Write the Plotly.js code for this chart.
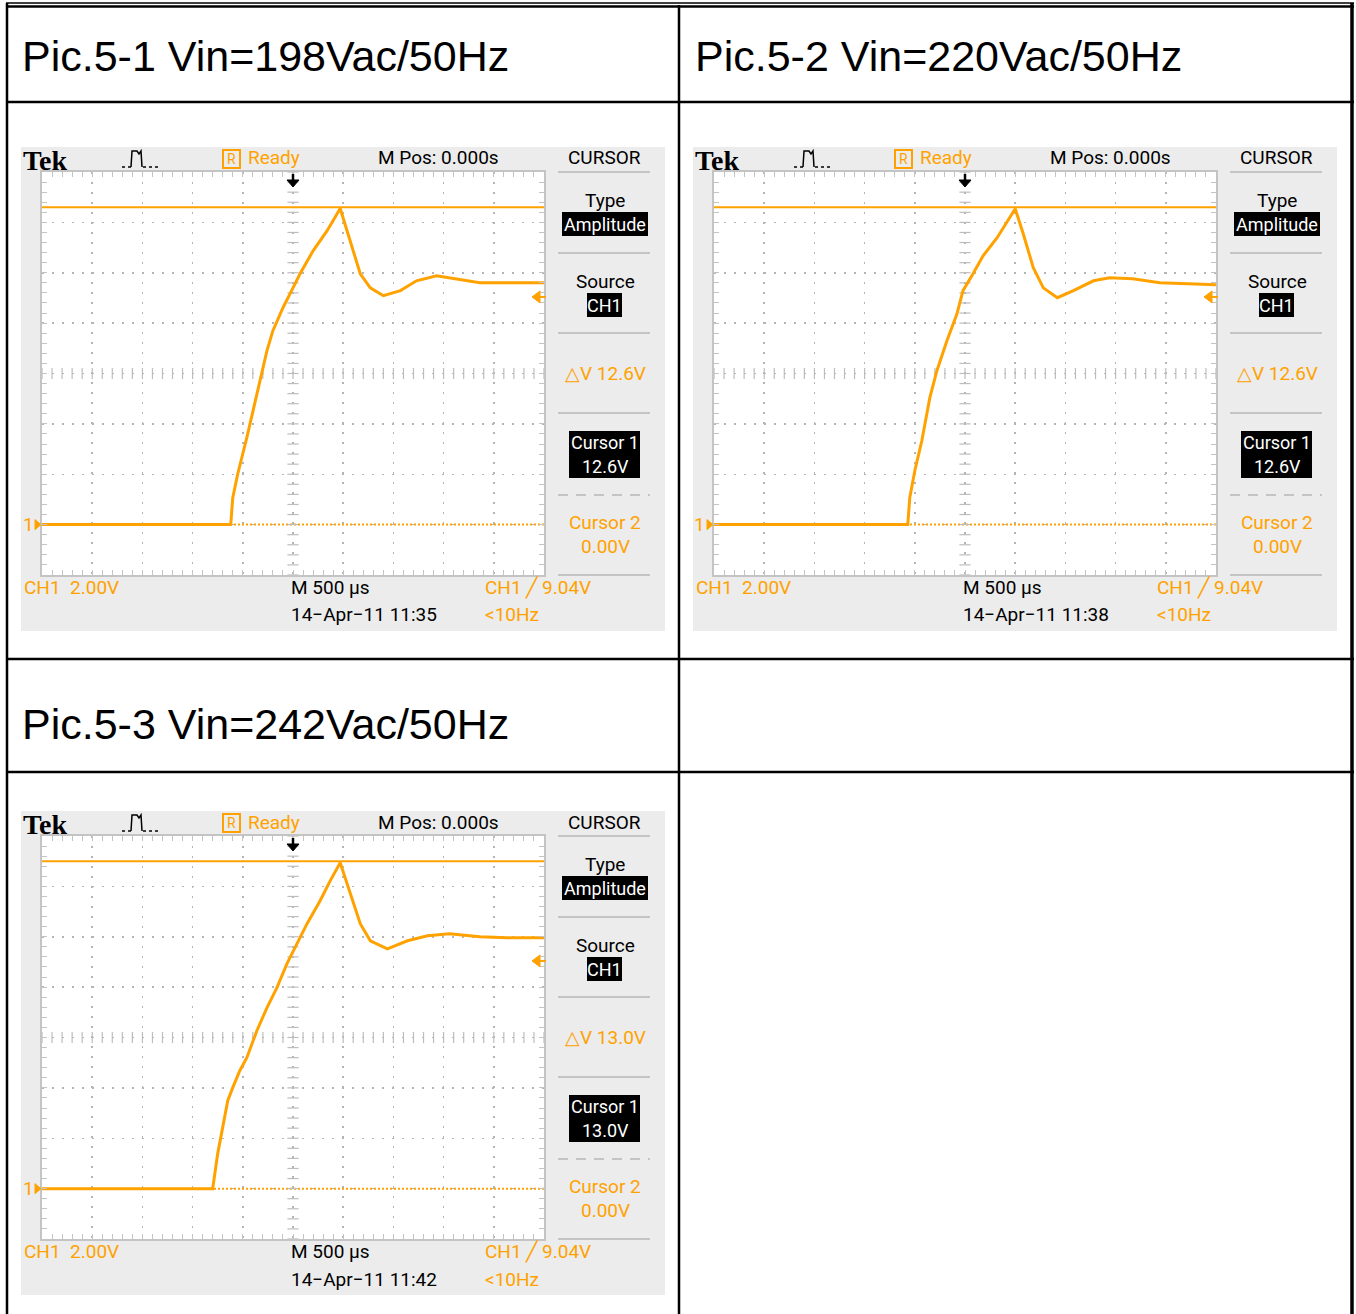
<!DOCTYPE html>
<html><head><meta charset="utf-8">
<script src="https://cdn.plot.ly/plotly-3.0.1.min.js"></script>
<style>html,body{margin:0;padding:0;background:#fff}#chart{width:1356px;height:1314px}</style>
</head><body><div id="chart"></div>
<script>
const W = 1356, H = 1314;

// ---------------- data ----------------
const panelTitles = ['Pic.5-1 Vin=198Vac/50Hz', 'Pic.5-2 Vin=220Vac/50Hz', 'Pic.5-3 Vin=242Vac/50Hz'];
const timestamps = ['14\u2212Apr\u221211 11:35', '14\u2212Apr\u221211 11:38', '14\u2212Apr\u221211 11:42'];
const cursor1Volts = [12.6, 12.6, 13.0];
const cursor2Volts = 0.00;
const triggerLevel = 9.04;        // V
const voltsPerDiv = 2.00;         // V/div
const timePerDiv = 0.5;           // ms/div (500 us)
const groundDivFromBottom = 1;

// time in ms, voltage in V
const t1 = [-2.50,-0.62,-0.60,-0.55,-0.46,-0.40,-0.33,-0.26,-0.20,-0.10,0.00,0.07,0.20,0.34,0.47,0.57,0.67,0.77,0.90,1.07,1.23,1.43,1.63,1.86,2.13,2.50];
const v1 = [0,0,1.07,2.02,3.45,4.52,5.71,6.90,7.70,8.61,9.40,9.96,10.87,11.67,12.55,11.27,9.96,9.40,9.09,9.29,9.68,9.88,9.76,9.60,9.60,9.60];

const t2 = [-2.50,-0.57,-0.55,-0.50,-0.43,-0.37,-0.35,-0.28,-0.18,-0.08,-0.02,0.08,0.18,0.32,0.42,0.50,0.58,0.68,0.78,0.92,1.08,1.28,1.44,1.67,1.94,2.21,2.50];
const v2 = [0,0,1.07,2.14,3.33,4.52,5.04,6.11,7.30,8.37,9.29,9.96,10.67,11.39,12.06,12.54,11.55,10.20,9.40,9.01,9.29,9.68,9.80,9.76,9.60,9.56,9.52];

const t3 = [-2.50,-0.80,-0.75,-0.71,-0.65,-0.60,-0.53,-0.46,-0.40,-0.36,-0.26,-0.16,-0.06,0.04,0.14,0.27,0.37,0.47,0.57,0.67,0.77,0.94,1.14,1.34,1.56,1.86,2.13,2.50];
const v3 = [0,0,1.39,2.18,3.49,4.01,4.68,5.20,5.87,6.27,7.18,7.98,8.93,9.72,10.52,11.43,12.22,12.94,11.71,10.52,9.84,9.52,9.84,10.04,10.12,10.00,9.96,9.96];

const series = [[t1, v1], [t2, v2], [t3, v3]];

// ---------------- style ----------------
const ORANGE = '#FFA200';
const GRAY_BG = '#ECECEC';
const GRID = '#B4B4B4';
const NARROW = 'Roboto, "Liberation Sans", sans-serif';
const SANS = '"Liberation Sans", Arial, sans-serif';
const SERIF = '"Liberation Serif", "DejaVu Serif", serif';
const FS = 19;

const X = p => p / W;
const Y = p => 1 - p / H;
const pathStr = pts => pts.map((p, i) => (i ? 'L' : 'M') + X(p[0]).toFixed(5) + ',' + Y(p[1]).toFixed(5)).join(' ');

const shapes = [];
const annotations = [];
const traces = [];
const layout = {
  width: W, height: H,
  margin: {l: 0, r: 0, t: 0, b: 0},
  paper_bgcolor: '#fff',
  plot_bgcolor: 'rgba(0,0,0,0)',
  showlegend: false,
  shapes, annotations
};

function txt(text, x, y, size, color, family, xanchor, extra) {
  annotations.push(Object.assign({
    text, x: X(x), y: Y(y), xref: 'paper', yref: 'paper', showarrow: false,
    xanchor: xanchor || 'center', yanchor: 'middle',
    font: {family: family || NARROW, size: size, color: color}
  }, extra || {}));
}
function rect(x0, y0, x1, y1, fill, layer) {
  shapes.push({type: 'rect', xref: 'paper', yref: 'paper', x0: X(x0), x1: X(x1), y0: Y(y0), y1: Y(y1),
    fillcolor: fill, line: {color: fill, width: 0}, layer: layer || 'below'});
}
function line(x0, y0, x1, y1, color, w, dash, layer) {
  shapes.push({type: 'line', xref: 'paper', yref: 'paper', x0: X(x0), x1: X(x1), y0: Y(y0), y1: Y(y1),
    line: {color, width: w, dash: dash || 'solid'}, layer: layer || 'above'});
}

// ---------------- table ----------------
const tableTitlePos = [[20, 56], [693, 56], [20, 724]];
panelTitles.forEach((t, i) => txt(t, tableTitlePos[i][0], tableTitlePos[i][1], 43, '#000', SANS, 'left'));

// ---------------- scopes ----------------
const offsets = [[0, 0], [672, 0], [0, 664]];
const nDivX = 10, nDivY = 8;
const xRange = [-nDivX / 2 * timePerDiv, nDivX / 2 * timePerDiv];
const yRange = [-groundDivFromBottom * voltsPerDiv, (nDivY - groundDivFromBottom) * voltsPerDiv];
const ySpanPx = 575 - 172;
const vPerPx = (yRange[1] - yRange[0]) / ySpanPx;

offsets.forEach(([dx, dy], i) => {
  const n = i === 0 ? '' : String(i + 1);
  const xa = 'x' + n, ya = 'y' + n;
  // background
  rect(21 + dx, 147 + dy, 665 + dx, 631 + dy, GRAY_BG);
  rect(42 + dx, 172 + dy, 544 + dx, 575 + dy, '#FFFFFF');

  const axCommon = {
    showline: true, linecolor: '#C4C4C4', linewidth: 2, mirror: 'allticks',
    ticks: 'inside', ticklen: 5, tickwidth: 1, tickcolor: '#C4C4C4',
    showticklabels: false, zeroline: false,
    showgrid: true, gridcolor: GRID, gridwidth: 1.5, griddash: '1.5px,8.5px',
    fixedrange: true
  };
  layout['xaxis' + n] = Object.assign({}, axCommon, {
    domain: [X(42 + dx), X(544 + dx)], range: xRange, anchor: ya,
    tick0: 0, dtick: timePerDiv,
    minor: {dtick: timePerDiv / 5, ticks: 'inside', ticklen: 5, tickcolor: '#C4C4C4', showgrid: false}
  });
  layout['yaxis' + n] = Object.assign({}, axCommon, {
    domain: [Y(575 + dy), Y(172 + dy)], range: yRange, anchor: xa,
    tick0: 0, dtick: voltsPerDiv,
    minor: {dtick: voltsPerDiv / 5, ticks: 'inside', ticklen: 5, tickcolor: '#C4C4C4', showgrid: false}
  });

  // centre cross small ticks (graticule)
  const cx = [], cy = [];
  for (let k = 0; k <= nDivY * 5; k++) { cx.push(0); cy.push(yRange[0] + k * voltsPerDiv / 5); }
  traces.push({x: cx, y: cy, xaxis: xa, yaxis: ya, mode: 'markers', hoverinfo: 'skip',
    marker: {symbol: 'line-ew', size: 8, line: {color: '#BDBDBD', width: 1.2}}});
  const midV = (yRange[0] + yRange[1]) / 2;
  const hx = [], hy = [];
  for (let k = 0; k <= nDivX * 5; k++) { hx.push(xRange[0] + k * timePerDiv / 5); hy.push(midV); }
  traces.push({x: hx, y: hy, xaxis: xa, yaxis: ya, mode: 'markers', hoverinfo: 'skip',
    marker: {symbol: 'line-ns', size: 8, line: {color: '#BDBDBD', width: 1.2}}});

  // cursor 2 (dotted, 0 V) and cursor 1 (solid)
  shapes.push({type: 'line', xref: xa, yref: ya, x0: xRange[0], x1: xRange[1], y0: cursor2Volts, y1: cursor2Volts,
    line: {color: ORANGE, width: 2, dash: '2px,2px'}, layer: 'between'});
  shapes.push({type: 'line', xref: xa, yref: ya, x0: xRange[0], x1: xRange[1], y0: cursor1Volts[i], y1: cursor1Volts[i],
    line: {color: ORANGE, width: 2}, layer: 'between'});

  // waveform
  traces.push({x: series[i][0], y: series[i][1], xaxis: xa, yaxis: ya, mode: 'lines', hoverinfo: 'skip',
    line: {color: ORANGE, width: 3}});

  // trigger-level arrow on the right edge
  const h = 6 * vPerPx;
  shapes.push({type: 'path', xref: 'paper', yref: ya, layer: 'above',
    path: `M${X(532 + dx)},${triggerLevel} L${X(540 + dx)},${triggerLevel + h} L${X(540 + dx)},${triggerLevel - h} Z`,
    fillcolor: ORANGE, line: {color: ORANGE, width: 1}});
  shapes.push({type: 'line', xref: 'paper', yref: ya, x0: X(538 + dx), x1: X(546 + dx), y0: triggerLevel, y1: triggerLevel,
    line: {color: ORANGE, width: 2}});
  // ground marker "1 ▸"
  annotations.push({text: '1', xref: 'paper', yref: ya, x: X(28 + dx), y: 0, showarrow: false,
    xanchor: 'center', yanchor: 'middle', font: {family: NARROW, size: FS, color: ORANGE}});
  shapes.push({type: 'path', xref: 'paper', yref: ya, layer: 'above',
    path: `M${X(41 + dx)},0 L${X(35 + dx)},${5 * vPerPx} L${X(35 + dx)},${-5 * vPerPx} Z`,
    fillcolor: ORANGE, line: {color: ORANGE, width: 1}});

  // top bar
  txt('Tek', 45 + dx, 160 + dy, 28, '#000', SERIF, 'center', {font: {family: SERIF, size: 28, color: '#000', weight: 'bold'}});
  line(122 + dx, 167 + dy, 131 + dx, 167 + dy, '#000', 1.5, 'dot');
  shapes.push({type: 'path', xref: 'paper', yref: 'paper', layer: 'above',
    path: pathStr([[131 + dx, 167 + dy], [132 + dx, 151 + dy], [137 + dx, 151 + dy], [139 + dx, 154 + dy], [141 + dx, 151 + dy], [142 + dx, 167 + dy]]),
    line: {color: '#000', width: 1.5}});
  line(143 + dx, 167 + dy, 158 + dx, 167 + dy, '#000', 1.5, 'dot');
  shapes.push({type: 'rect', xref: 'paper', yref: 'paper', x0: X(223 + dx), x1: X(240 + dx), y0: Y(168 + dy), y1: Y(150 + dy),
    line: {color: ORANGE, width: 2}, fillcolor: 'rgba(0,0,0,0)'});
  txt('R', 231.5 + dx, 159 + dy, 14, ORANGE, NARROW);
  txt('Ready', 246 + dx, 158 + dy, FS, ORANGE, NARROW, 'left');
  txt('M Pos: 0.000s', 438 + dx, 158 + dy, FS, '#000', NARROW);
  txt('CURSOR', 604 + dx, 158 + dy, FS, '#000', NARROW);
  // trigger position arrow
  shapes.push({type: 'path', xref: 'paper', yref: 'paper', layer: 'above',
    path: pathStr([[287 + dx, 180 + dy], [299 + dx, 180 + dy], [293 + dx, 187 + dy]]) + ' Z',
    fillcolor: '#000', line: {color: '#000', width: 1}});
  line(293 + dx, 174 + dy, 293 + dx, 181 + dy, '#000', 2.5);

  // right menu
  [172, 253, 333, 413, 575].forEach(yy => line(558 + dx, yy + dy, 650 + dx, yy + dy, '#C4C4C4', 2));
  line(558 + dx, 495 + dy, 650 + dx, 495 + dy, '#C4C4C4', 2, '10px,8px');
  txt('Type', 605 + dx, 200 + dy, FS, '#000', NARROW);
  rect(562 + dx, 212 + dy, 648 + dx, 236 + dy, '#000', 'above');
  txt('Amplitude', 605 + dx, 224 + dy, 18, '#FFF', NARROW);
  txt('Source', 605 + dx, 281 + dy, FS, '#000', NARROW);
  rect(587 + dx, 293 + dy, 622 + dx, 317 + dy, '#000', 'above');
  txt('CH1', 604.5 + dx, 305 + dy, 18, '#FFF', NARROW);
  const dV = (cursor1Volts[i] - cursor2Volts).toFixed(1) + 'V';
  txt('\u25B3V ' + dV, 605 + dx, 373 + dy, FS, ORANGE, NARROW);
  rect(569 + dx, 431 + dy, 640 + dx, 478 + dy, '#000', 'above');
  txt('Cursor 1', 605 + dx, 442 + dy, 18, '#FFF', NARROW);
  txt(cursor1Volts[i].toFixed(1) + 'V', 605 + dx, 466 + dy, 18, '#FFF', NARROW);
  txt('Cursor 2', 605 + dx, 522 + dy, FS, ORANGE, NARROW);
  txt(cursor2Volts.toFixed(2) + 'V', 605 + dx, 546 + dy, FS, ORANGE, NARROW);

  // bottom bar
  txt('CH1\u00A0\u00A0' + voltsPerDiv.toFixed(2) + 'V', 22 + dx, 587 + dy, FS, ORANGE, NARROW, 'left');
  txt('M ' + (timePerDiv * 1000).toFixed(0) + '\u00A0\u00B5s', 289 + dx, 587 + dy, FS, '#000', NARROW, 'left');
  txt('CH1 \u2571 ' + triggerLevel.toFixed(2) + 'V', 483 + dx, 587 + dy, FS, ORANGE, NARROW, 'left');
  txt(timestamps[i], 289 + dx, 615 + dy, FS, '#000', NARROW, 'left');
  txt('&lt;10Hz', 483 + dx, 615 + dy, FS, ORANGE, NARROW, 'left');
});

// table rules (drawn last, on top)
line(6, 3, 1354, 3, '#000', 1.5);
line(6, 6.5, 1354, 6.5, '#000', 2.5);
line(7, 3, 7, 1314, '#000', 2.5);
line(679, 5, 679, 1314, '#000', 2.5);
line(1352, 3, 1352, 1314, '#000', 3.5);
[102, 659, 772].forEach(yy => line(6, yy, 1354, yy, '#000', 2.5));

Plotly.newPlot('chart', traces, layout, {staticPlot: true, displayModeBar: false});
</script></body></html>
